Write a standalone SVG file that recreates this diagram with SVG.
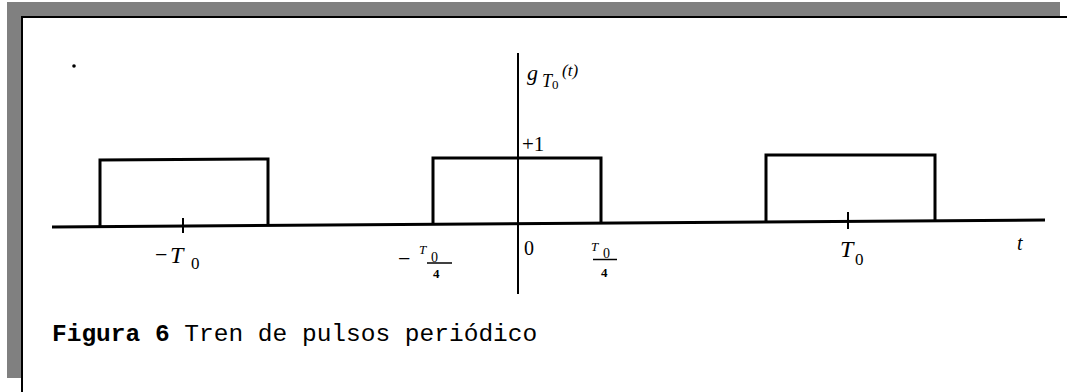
<svg xmlns="http://www.w3.org/2000/svg" width="1067" height="392" viewBox="0 0 1067 392">
<style>
.sig{fill:none;stroke:#000;stroke-width:3;stroke-linejoin:miter}
.ax{fill:none;stroke:#000;stroke-width:2}
.m{font-family:"Liberation Serif",serif;font-style:italic;fill:#000}
.n{font-family:"Liberation Serif",serif;fill:#000}
.cap{font-family:"Liberation Mono",monospace;fill:#000}
</style>
<rect x="0" y="0" width="1067" height="392" fill="#fff"/>
<rect x="7" y="2" width="1053" height="376" fill="#808080"/>
<rect x="22" y="17" width="1060" height="390" fill="#fff" stroke="#000" stroke-width="2"/>
<circle cx="74" cy="66" r="1.8" fill="#000"/>
<g id="connectors">
<line class="sig" x1="52" y1="227" x2="1045" y2="220"/>
<polyline class="sig" points="100,226.6 100,160 268,159 268,225.5"/>
<polyline class="sig" points="433,224.3 433,158 601,158 601,223.2"/>
<polyline class="sig" points="766,220.9 766,155 935,155 935,220"/>
<line class="ax" x1="518" y1="53" x2="518" y2="294"/>
<line class="ax" x1="183" y1="218" x2="183" y2="233"/>
<line class="ax" x1="848" y1="212" x2="848" y2="229"/>
</g>
<g id="ylabel">
<text class="m" x="527" y="80" font-size="22">g</text>
<text class="m" x="542" y="87" font-size="18">T</text>
<text class="n" x="552" y="89" font-size="13">0</text>
<text class="m" x="562" y="76" font-size="17">(t)</text>
</g>
<g id="plus1"><text class="n" x="522" y="151" font-size="21">+1</text></g>
<g id="negT0">
<text class="n" x="155" y="262" font-size="22">−</text>
<text class="m" x="170" y="263" font-size="24">T</text>
<text class="n" x="191" y="269" font-size="17">0</text>
</g>
<g id="negT0q">
<text class="n" x="398" y="266" font-size="22">−</text>
<text class="m" x="419" y="254" font-size="13">T</text>
<text class="n" x="431" y="262" font-size="14">0</text>
<line x1="427" y1="263" x2="452" y2="263" stroke="#000" stroke-width="1.5"/>
<text class="n" x="433" y="278" font-size="13" font-weight="bold">4</text>
</g>
<g id="zero"><text class="n" x="524" y="255" font-size="20">0</text></g>
<g id="T0q">
<text class="m" x="591" y="251" font-size="13">T</text>
<text class="n" x="603" y="258" font-size="14">0</text>
<line x1="593" y1="259.5" x2="617" y2="259.5" stroke="#000" stroke-width="1.5"/>
<text class="n" x="601" y="277" font-size="13" font-weight="bold">4</text>
</g>
<g id="T0">
<text class="m" x="840" y="257" font-size="24">T</text>
<text class="n" x="855" y="265" font-size="17">0</text>
</g>
<g id="tlabel"><text class="m" x="1017" y="250" font-size="20">t</text></g>
<g id="caption">
<text class="cap" x="52" y="341" font-size="24.5"><tspan font-weight="bold">Figura 6</tspan> Tren de pulsos periódico</text>
</g>
</svg>
